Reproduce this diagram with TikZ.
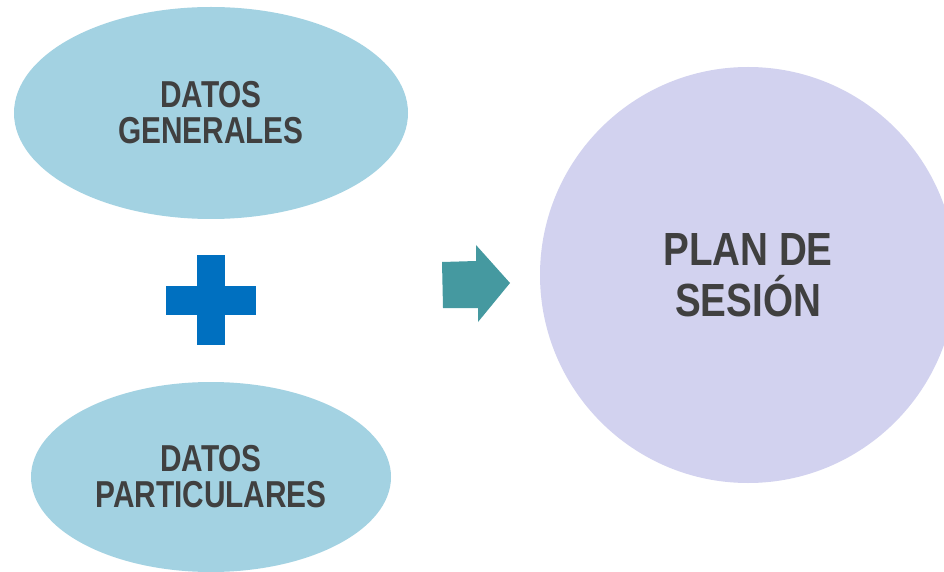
\documentclass[tikz,border=0pt]{standalone}
\usepackage{fontspec}
\setmainfont{Liberation Sans}
\newfontfamily\ellfont[FakeStretch=0.795]{Liberation Sans}
\newfontfamily\cirfont[FakeStretch=0.83]{Liberation Sans}
\usetikzlibrary{shapes.geometric}
\definecolor{ellblue}{HTML}{A3D2E2}
\definecolor{cirlav}{HTML}{D2D2EF}
\definecolor{plusblue}{HTML}{0070C0}
\definecolor{arrteal}{HTML}{4599A0}
\definecolor{txtgray}{HTML}{404040}
\tikzset{
  ellbox/.style={ellipse, fill=ellblue, draw=none, inner sep=0pt, align=center,
    text=txtgray, font=\ellfont\bfseries\fontsize{37.5}{36}\selectfont},
  cirbox/.style={circle, fill=cirlav, draw=none, inner sep=0pt, align=center,
    text=txtgray, minimum size=416pt, font=\cirfont\bfseries\fontsize{46.5}{50.5}\selectfont},
}
\begin{document}
\begin{tikzpicture}[x=1pt,y=1pt]
\clip (0,0) rectangle (944,571);
\fill[white] (0,0) rectangle (944,571);
\node[ellbox, minimum width=394pt, minimum height=212pt] (gen) at (211,458) {DATOS\\GENERALES};
\node[ellbox, minimum width=360pt, minimum height=190pt] (par) at (211,94) {DATOS\\PARTICULARES};
\node[cirbox] (plan) at (748,296) {PLAN DE\\SESIÓN};
\coordinate (plus) at (211,271);
\fill[plusblue] ([shift={(-14,-45)}]plus) rectangle ([shift={(14,45)}]plus);
\fill[plusblue] ([shift={(-45,-14.5)}]plus) rectangle ([shift={(45,14.5)}]plus);
\coordinate (arr) at (476,288);
\fill[arrteal] ([shift={(-34,21)}]arr) -- ([shift={(0,22)}]arr) -- ([shift={(0,38)}]arr)
  -- ([shift={(34,0)}]arr) -- ([shift={(2,-39)}]arr) -- ([shift={(2,-25)}]arr)
  -- ([shift={(-33,-25)}]arr) -- cycle;
\end{tikzpicture}
\end{document}
